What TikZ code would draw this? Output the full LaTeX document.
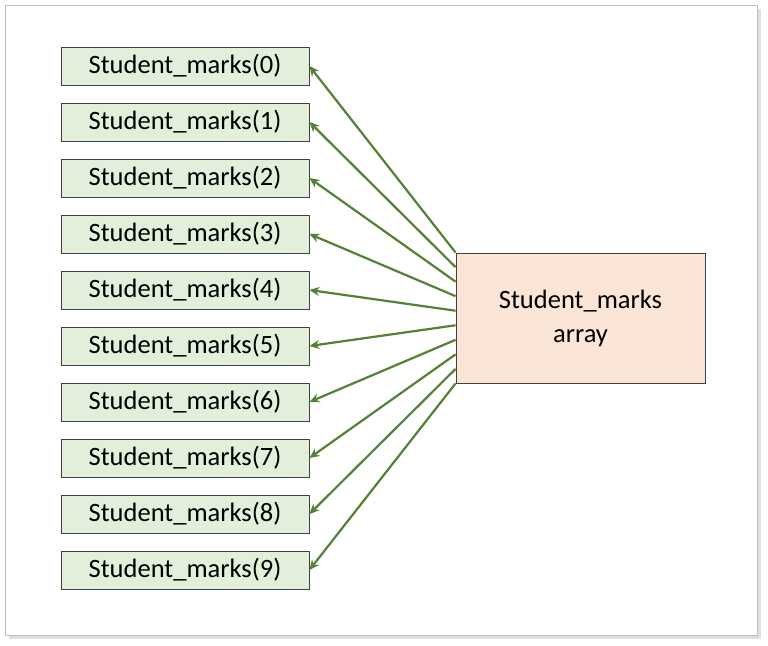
\documentclass[tikz,border=0pt]{standalone}
\usepackage{fontspec}
\setmainfont{Carlito}
\usetikzlibrary{arrows.meta,calc}
\begin{document}
\begin{tikzpicture}[x=1pt,y=-1pt,
  item/.style={draw=black!75,fill=green2,minimum width=248pt,minimum height=38pt,inner sep=0pt,font=\fontsize{26.5}{30}\selectfont,line width=0.8pt},
  arr/.style={draw=green3,line width=2.2pt,-{Stealth[length=10pt,width=9pt]}}]
\definecolor{green2}{HTML}{E2EFDA}
\definecolor{green3}{HTML}{548235}
\definecolor{peach}{HTML}{FBE5D6}
\useasboundingbox (0,0) rectangle (768,645);
\fill[black!12] (9,9) rectangle (761,639);
\draw[black!25,fill=white] (5,5) rectangle (757,635);
\node[draw=black!75,fill=peach,minimum width=249pt,minimum height=130pt,align=center,font=\fontsize{26.5}{34}\selectfont,line width=0.8pt] (arr) at (580.5,318) {Student\_marks\\array};
\foreach \i in {0,...,9}{
  \node[item] (s\i) at (185,66+56*\i) {Student\_marks(\i)};
  \coordinate (p\i) at ($(arr.north west)!{\i/9}!(arr.south west)$);
}
\foreach \i in {0,...,9}{
  \draw[arr] (p\i) -- (s\i.east);
}
\end{tikzpicture}
\end{document}
